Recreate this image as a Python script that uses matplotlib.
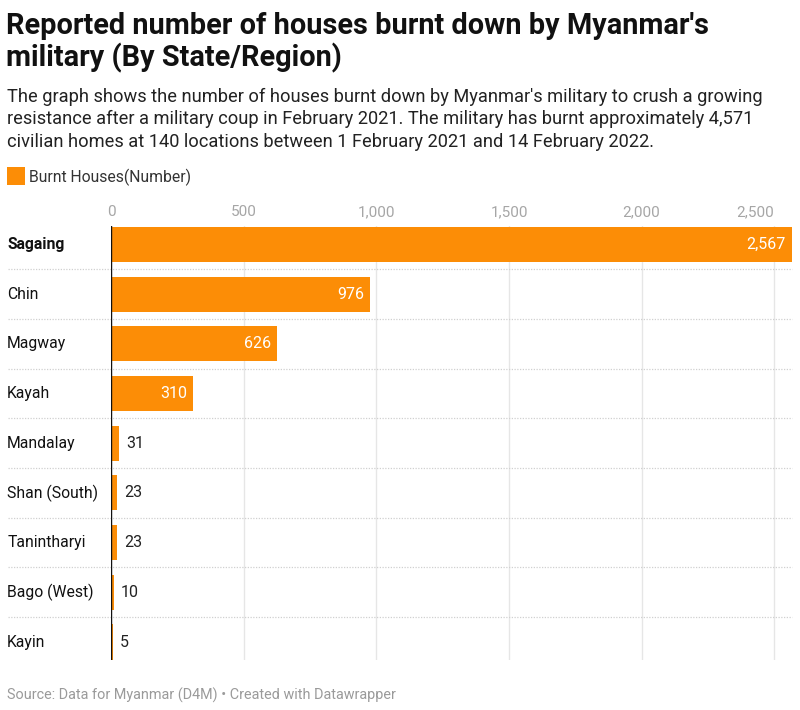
import matplotlib
matplotlib.use("Agg")
import matplotlib.pyplot as plt
from matplotlib.patches import Rectangle

categories = ["Sagaing", "Chin", "Magway", "Kayah", "Mandalay", "Shan (South)", "Tanintharyi", "Bago (West)", "Kayin"]
values = [2567, 976, 626, 310, 31, 23, 23, 10, 5]
ticks = [0, 500, 1000, 1500, 2000, 2500]
tick_labels = ["0", "500", "1,000", "1,500", "2,000", "2,500"]

plt.rcParams['font.family'] = ['Roboto', 'DejaVu Sans']
ORANGE = "#fc8d06"
W, H = 800, 710
fig = plt.figure(figsize=(8, 7.1), dpi=100, facecolor="white")

def T(x, y, s, **kw):
    fig.text(x / W, 1 - y / H, s, va=kw.pop("va", "center"), **kw)

T(6, 26, "Reported number of houses burnt down by Myanmar's", fontsize=20.75, fontweight="bold", color="#111111")
T(6, 58, "military (By State/Region)", fontsize=20.75, fontweight="bold", color="#111111")
T(7, 97, "The graph shows the number of houses burnt down by Myanmar's military to crush a growing", fontsize=13.17, color="#222222")
T(7, 119, "resistance after a military coup in February 2021. The military has burnt approximately 4,571", fontsize=13.17, color="#222222")
T(7, 142, "civilian homes at 140 locations between 1 February 2021 and 14 February 2022.", fontsize=13.17, color="#222222")
fig.add_artist(Rectangle((7 / W, 1 - 185 / H), 18 / W, 18 / H, transform=fig.transFigure, facecolor=ORANGE, edgecolor="none"))
T(29, 177, "Burnt Houses(Number)", fontsize=11.3, color="#333333")
T(7, 695, "Source: Data for Myanmar (D4M) • Created with Datawrapper", fontsize=10.4, color="#9a9a9a")

left, right, top, bottom = 111.2, 792, 226, 660
ax = fig.add_axes([left / W, 1 - bottom / H, (right - left) / W, (bottom - top) / H])
ax.set_xlim(0, 2567)
ax.set_ylim(8.362, -0.372)
for s in ax.spines.values():
    s.set_visible(False)
ax.set_yticks([])
ax.xaxis.tick_top()
ax.tick_params(axis="x", length=0, pad=5)
ax.set_xticks(ticks)
ax.set_xticklabels(tick_labels, fontsize=11, color="#a6a6a6")
ax.set_axisbelow(True)
ax.grid(axis="x", color="#e6e6e6", lw=1)

ax.barh(range(len(values)), values, height=0.705, color=ORANGE, zorder=2)
trans = ax.get_yaxis_transform()
for i, (c, v) in enumerate(zip(categories, values)):
    ax.annotate(c, (0, i), xycoords=trans, xytext=(-104, 0), textcoords="offset pixels", va="center", ha="left",
                fontsize=11.35, color="#111111", fontweight="bold" if i == 0 else "normal")
    if v > 200:
        ax.annotate(f"{v:,}", (v, i), xytext=(-6, 0), textcoords="offset pixels", ha="right", va="center",
                    color="white", fontsize=11.5, zorder=3)
    else:
        ax.annotate(f"{v:,}", (v, i), xytext=(7, 0), textcoords="offset pixels", ha="left", va="center",
                    color="#222222", fontsize=11.5, zorder=3)
    if i < len(values) - 1:
        ax.plot([-103.5 / (right - left), 1], [i + 0.5, i + 0.5], transform=trans, color="#d0d0d0",
                lw=0.9, ls=(0, (1, 1.2)), clip_on=False, zorder=1)
ax.axvline(0, color="#111111", lw=1.0, zorder=4)
fig.canvas.draw()
ax.get_xaxis().get_major_ticks()[-1].label2.set_horizontalalignment("right")
fig.savefig("out.png", dpi=100)
